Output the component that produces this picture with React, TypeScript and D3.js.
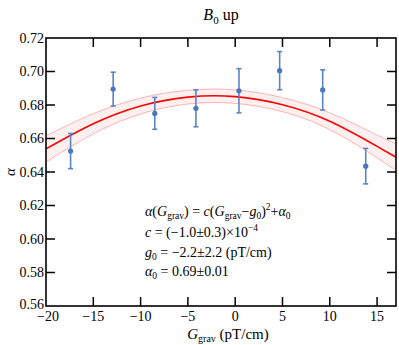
import React from 'react';
import * as d3 from 'd3';

// measured points (G_grav in pT/cm, alpha, error)
const gGrav = [-17.4, -12.9, -8.5, -4.15, 0.4, 4.7, 9.25, 13.8];
const alphaVals = [0.6525, 0.6895, 0.675, 0.678, 0.6885, 0.7005, 0.689, 0.6435];
const alphaErr = [0.0105, 0.0101, 0.0095, 0.011, 0.0132, 0.0114, 0.012, 0.0106];

// fit curve and confidence band
const fitG = [-20, -15, -10, -5, 0, 5, 10, 15, 17];
const fitAlpha = [0.6538, 0.6688, 0.6794, 0.6847, 0.6850, 0.6802, 0.6703, 0.6553, 0.6488];
const fitHalf = [0.0078, 0.006, 0.0047, 0.0041, 0.004, 0.0042, 0.005, 0.0068, 0.008];

const xTicks = [-20, -15, -10, -5, 0, 5, 10, 15];
const yTicks = [0.56, 0.58, 0.6, 0.62, 0.64, 0.66, 0.68, 0.7, 0.72];

const W = 399;
const H = 345;
const margin = { top: 38, right: 3, bottom: 39, left: 46 };
const font = '"Times New Roman", "Liberation Serif", "DejaVu Serif", serif';

const App = () => {
  const x = d3.scaleLinear().domain([-20, 17]).range([margin.left, W - margin.right]);
  const y = d3.scaleLinear().domain([0.56, 0.72]).range([H - margin.bottom, margin.top]);

  const fit = fitG.map((g, i) => ({ g, a: fitAlpha[i], h: fitHalf[i] }));
  const line = d3.line<any>().x(d => x(d.g)).y(d => y(d.a)).curve(d3.curveNatural);
  const upper = d3.line<any>().x(d => x(d.g)).y(d => y(d.a + d.h)).curve(d3.curveNatural);
  const lower = d3.line<any>().x(d => x(d.g)).y(d => y(d.a - d.h)).curve(d3.curveNatural);
  const band = d3.area<any>()
    .x(d => x(d.g))
    .y0(d => y(d.a - d.h))
    .y1(d => y(d.a + d.h))
    .curve(d3.curveNatural);

  const x0 = margin.left, x1 = W - margin.right;
  const y0 = H - margin.bottom, y1 = margin.top;
  const tl = 9;
  const blue = '#5a84c6';

  const fmt = d3.format('.2f');
  const minus = (s: string) => s.replace('-', '\u2212');

  return (
    <svg width={W} height={H} style={{ position: 'absolute', left: 0, top: 0, fontFamily: font }}>
      <rect width={W} height={H} fill="#fff" />
      <defs>
        <clipPath id="plot">
          <rect x={x0} y={y1} width={x1 - x0} height={y0 - y1} />
        </clipPath>
      </defs>

      {/* fit band */}
      <g clipPath="url(#plot)">
        <path d={band(fit) || ''} fill="#fff0f0" />
        <path d={upper(fit) || ''} fill="none" stroke="#ffb3b3" strokeWidth={1} />
        <path d={lower(fit) || ''} fill="none" stroke="#ffb3b3" strokeWidth={1} />
        <path d={line(fit) || ''} fill="none" stroke="#ff0000" strokeWidth={1.6} />
      </g>

      {/* data with error bars */}
      {gGrav.map((g, i) => {
        const cx = x(g);
        const top = y(alphaVals[i] + alphaErr[i]);
        const bot = y(alphaVals[i] - alphaErr[i]);
        return (
          <g key={i} stroke={blue} strokeWidth={1.6}>
            <line x1={cx} x2={cx} y1={top} y2={bot} />
            <line x1={cx - 2.5} x2={cx + 2.5} y1={top} y2={top} />
            <line x1={cx - 2.5} x2={cx + 2.5} y1={bot} y2={bot} />
            <circle cx={cx} cy={y(alphaVals[i])} r={2.6} fill="#4a76bb" stroke="none" />
          </g>
        );
      })}

      {/* frame and ticks */}
      <rect x={x0} y={y1} width={x1 - x0} height={y0 - y1} fill="none" stroke="#000" strokeWidth={1.6} />
      {xTicks.slice(1).map(t => (
        <g key={'xt' + t} stroke="#000" strokeWidth={1.5}>
          <line x1={x(t)} x2={x(t)} y1={y0} y2={y0 - tl} />
          <line x1={x(t)} x2={x(t)} y1={y1} y2={y1 + tl} />
        </g>
      ))}
      {yTicks.slice(1, -1).map(t => (
        <g key={'yt' + t} stroke="#000" strokeWidth={1.5}>
          <line x1={x0} x2={x0 + tl} y1={y(t)} y2={y(t)} />
          <line x1={x1} x2={x1 - tl} y1={y(t)} y2={y(t)} />
        </g>
      ))}

      {/* tick labels */}
      {xTicks.map(t => (
        <text key={'xl' + t} x={x(t) + (t === -20 ? 2 : 0)} y={y0 + 15} fontSize={14} textAnchor="middle" fill="#000">
          {minus(String(t))}
        </text>
      ))}
      {yTicks.map(t => (
        <text key={'yl' + t} x={x0 - 2} y={y(t) + (t === 0.56 ? 3 : 4.5)} fontSize={14} textAnchor="end" fill="#000">
          {fmt(t)}
        </text>
      ))}

      {/* title */}
      <text x={(x0 + x1) / 2} y={20} fontSize={16} textAnchor="middle" fill="#000">
        <tspan fontStyle="italic">B</tspan>
        <tspan fontSize={11} dy={4}>0</tspan>
        <tspan dy={-4}> up</tspan>
      </text>

      {/* axis labels */}
      <text x={228} y={339} fontSize={15} textAnchor="middle" fill="#000">
        <tspan fontStyle="italic">G</tspan>
        <tspan fontSize={10} dy={3}>grav</tspan>
        <tspan dy={-3}> (pT/cm)</tspan>
      </text>
      <text transform={`translate(15,${(y0 + y1) / 2}) rotate(-90)`} fontSize={15} textAnchor="middle" fontStyle="italic" fill="#000">
        α
      </text>

      {/* fit annotation */}
      <g fontSize={14} fill="#000">
        <text x={145} y={216}>
          <tspan fontStyle="italic">α</tspan>
          <tspan>(</tspan>
          <tspan fontStyle="italic">G</tspan>
          <tspan fontSize={9.5} dy={3}>grav</tspan>
          <tspan dy={-3}>) = </tspan>
          <tspan fontStyle="italic">c</tspan>
          <tspan>(</tspan>
          <tspan fontStyle="italic">G</tspan>
          <tspan fontSize={9.5} dy={3}>grav</tspan>
          <tspan dy={-3}>−</tspan>
          <tspan fontStyle="italic">g</tspan>
          <tspan fontSize={9.5} dy={3}>0</tspan>
          <tspan dy={-3}>)</tspan>
          <tspan fontSize={9.5} dy={-6}>2</tspan>
          <tspan dy={6}>+</tspan>
          <tspan fontStyle="italic">α</tspan>
          <tspan fontSize={9.5} dy={3}>0</tspan>
        </text>
        <text x={145} y={236.5}>
          <tspan fontStyle="italic">c</tspan>
          <tspan> = (−1.0±0.3)×10</tspan>
          <tspan fontSize={9.5} dy={-6}>−4</tspan>
        </text>
        <text x={145} y={257}>
          <tspan fontStyle="italic">g</tspan>
          <tspan fontSize={9.5} dy={3}>0</tspan>
          <tspan dy={-3}> = −2.2±2.2 (pT/cm)</tspan>
        </text>
        <text x={145} y={276}>
          <tspan fontStyle="italic">α</tspan>
          <tspan fontSize={9.5} dy={3}>0</tspan>
          <tspan dy={-3}> = 0.69±0.01</tspan>
        </text>
      </g>
    </svg>
  );
};

export default App;
